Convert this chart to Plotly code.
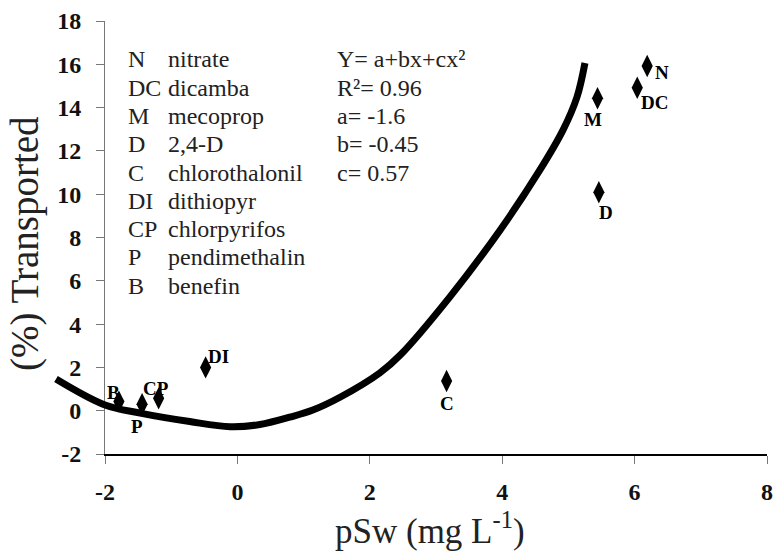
import plotly.graph_objects as go

# ---------------- data ----------------
codes = ["N", "DC", "M", "D", "C", "DI", "CP", "P", "B"]
names = ["nitrate", "dicamba", "mecoprop", "2,4-D", "chlorothalonil",
         "dithiopyr", "chlorpyrifos", "pendimethalin", "benefin"]
psw = [6.19, 6.04, 5.44, 5.46, 3.16, -0.48, -1.19, -1.44, -1.79]
transported = [15.92, 14.92, 14.43, 10.09, 1.37, 2.0, 0.57, 0.30, 0.42]

fit_x = [-2.74, -2.0, -1.47, -0.72, -0.11, 0.34, 0.79, 1.14, 1.55, 2.15,
         2.46, 3.21, 3.97, 4.57, 4.92, 5.13, 5.25]
fit_y = [1.46, 0.26, -0.11, -0.50, -0.74, -0.64, -0.30, 0.03, 0.62, 1.74,
         2.57, 5.26, 8.35, 11.12, 12.97, 14.49, 16.06]

fit_text = ["Y= a+bx+cx²", "R²= 0.96", "a= -1.6", "b= -0.45", "c= 0.57"]
x_ticks = [-2, 0, 2, 4, 6, 8]
y_ticks = [-2, 0, 2, 4, 6, 8, 10, 12, 14, 16, 18]

# label offsets (px) relative to each point: style only
label_dx = [15, 17, -5, 7, 0, 13, -3, -5, -5]
label_dy = [-6, -15, -21, -20, -22, 11, 10, -22, 9]

# ---------------- layout geometry ----------------
W, H = 776, 552
ML, MR, MT, MB = 50, 9, 21, 98
PW = W - ML - MR
PH = H - MT - MB
AXIS_PX = 105                     # pixel position of y axis
d0 = (AXIS_PX - ML) / PW
XMIN, XMAX, YMIN, YMAX = -2, 8, -2, 18
px_per_x = (PW * (1 - d0)) / (XMAX - XMIN)
px_per_y = PH / (YMAX - YMIN)

def px2x(px):
    return XMIN + (px - AXIS_PX) / px_per_x

def py2y(py):
    return YMIN + (H - MB - py) / px_per_y

SERIF = "Liberation Serif"

fig = go.Figure()

fig.add_trace(go.Scatter(
    x=psw, y=transported, mode="markers",
    marker=dict(symbol="diamond-tall", size=16, color="black"),
    xaxis="x", yaxis="y", showlegend=False, hoverinfo="skip"))

fig.add_trace(go.Scatter(
    x=fit_x, y=fit_y, mode="lines",
    line=dict(color="black", width=7, shape="spline", smoothing=1.0),
    xaxis="x2", yaxis="y2", showlegend=False, hoverinfo="skip"))

annotations = []
for c, xv, yv, dx, dy in zip(codes, psw, transported, label_dx, label_dy):
    annotations.append(dict(x=xv, y=yv, xref="x", yref="y", text=f"<b>{c}</b>",
                            showarrow=False, xshift=dx, yshift=dy,
                            font=dict(family=SERIF, size=19, color="black")))

row0 = 59.3
step = 28.3
LEG_FONT = dict(family=SERIF, size=24, color="#222")
for i, (c, n) in enumerate(zip(codes, names)):
    yy = py2y(row0 + i * step)
    annotations.append(dict(x=px2x(126), y=yy, xref="x", yref="y", text=c,
                            showarrow=False, xanchor="left", yanchor="middle",
                            font=LEG_FONT))
    annotations.append(dict(x=px2x(166), y=yy, xref="x", yref="y", text=n,
                            showarrow=False, xanchor="left", yanchor="middle",
                            font=LEG_FONT))
for i, t in enumerate(fit_text):
    yy = py2y(row0 + i * step)
    annotations.append(dict(x=px2x(335), y=yy, xref="x", yref="y", text=t,
                            showarrow=False, xanchor="left", yanchor="middle",
                            font=LEG_FONT))

# axis titles
annotations.append(dict(x=(430 - ML) / PW, y=-(528 - (H - MB)) / PH,
                        xref="paper", yref="paper",
                        text="pSw (mg L<sup>-1</sup>)", showarrow=False,
                        xanchor="center", yanchor="middle",
                        font=dict(family=SERIF, size=35, color="#222")))
annotations.append(dict(x=(25 - ML) / PW, y=((H - MB) - 244) / PH,
                        xref="paper", yref="paper",
                        text="(%) Transported", showarrow=False, textangle=-90,
                        xanchor="center", yanchor="middle",
                        font=dict(family=SERIF, size=39, color="#222")))

tickfont = dict(family=SERIF, size=24, color="#111")

fig.update_layout(
    width=W, height=H,
    margin=dict(l=ML, r=MR, t=MT, b=MB, autoexpand=False),
    paper_bgcolor="white", plot_bgcolor="rgba(0,0,0,0)",
    showlegend=False,
    annotations=annotations,
    xaxis=dict(domain=[d0, 1], range=[XMIN, XMAX], anchor="y",
               tickvals=x_ticks, ticktext=[f"<b>{v}</b>" for v in x_ticks],
               ticks="outside", ticklen=8, tickwidth=1,
               tickcolor="#777", showline=True, linecolor="black", linewidth=1.5,
               showgrid=False, zeroline=False, tickfont=tickfont,
               ticklabelstandoff=7, automargin=False),
    yaxis=dict(domain=[0, 1], range=[YMIN, YMAX], anchor="x",
               tickvals=y_ticks, ticktext=[f"<b>{v}</b>" for v in y_ticks],
               ticks="outside", ticklen=8, tickwidth=1,
               tickcolor="#777", showline=True, linecolor="#777", linewidth=1,
               showgrid=False, zeroline=False, tickfont=tickfont,
               ticklabelstandoff=10, automargin=False),
    xaxis2=dict(domain=[0, 1], range=[px2x(ML), XMAX], anchor="y2",
                visible=False, fixedrange=True),
    yaxis2=dict(domain=[0, 1], range=[YMIN, YMAX], anchor="x2",
                visible=False, fixedrange=True),
)

fig.write_html("out.html",
               config={"displayModeBar": False},
               post_script="document.body.style.margin='0';"
                           "document.body.style.padding='0';")
